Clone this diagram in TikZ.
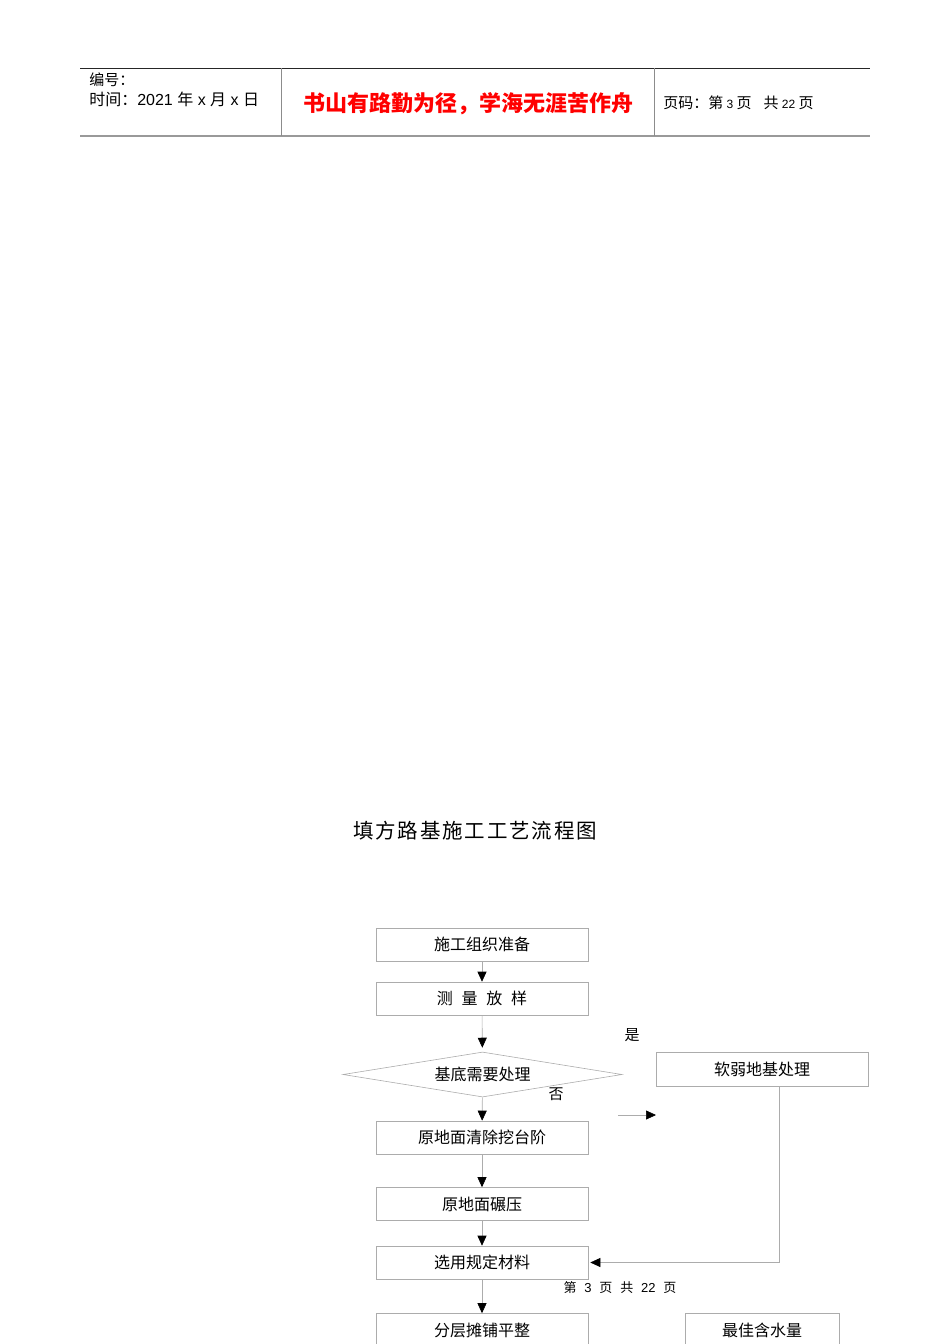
\documentclass[tikz,border=0pt]{standalone}
\usepackage{fontspec}
\usepackage{xcolor}
\usepackage{tikz}
\usetikzlibrary{arrows.meta,shapes.geometric,positioning}
\newfontfamily\cjk{Noto Sans CJK SC}
\newfontfamily\arial{Liberation Sans}

\begin{document}
\begin{tikzpicture}[x=1pt,y=-1pt,line width=0.6pt,
    box/.style={draw=gray!65,minimum width=212pt,minimum height=33pt,inner sep=0pt,font=\cjk\fontsize{16}{18}\selectfont},
    ask/.style={draw=gray!65,diamond,aspect=6.2,minimum width=279pt,minimum height=45pt,inner sep=0pt,font=\cjk\fontsize{16}{18}\selectfont},
    lbl/.style={inner sep=0pt,font=\cjk\fontsize{15}{18}\selectfont},
    flow/.style={draw=gray!65,-{Triangle[length=10pt,width=9pt,color=black]}}]
  \useasboundingbox (0,0) rectangle (950,1344);
  \clip (0,0) rectangle (950,1344);

  \draw[black!85,line width=0.8pt] (80,68) -- (870,68);
  \draw[gray!80,line width=2pt] (80,136) -- (870,136);
  \draw[gray!90,line width=0.8pt] (281,68) -- (281,136);
  \draw[gray!90,line width=0.8pt] (654,68) -- (654,136);
  \node[lbl,anchor=west]	(num)	at (89,80)	{编号：};
  \node[lbl,anchor=west,font=\cjk\fontsize{16}{18}\selectfont]	(date)	at (89,99)	{时间：{\arial 2021 }年{\arial\ x }月{\arial\ x }日};
  \node[lbl,text=red,font=\cjk\bfseries\fontsize{22}{24}\selectfont]	(motto)	at (468,104)	{书山有路勤为径，学海无涯苦作舟};
  \node[lbl,anchor=west]	(page)	at (663,103)	{页码：第{\arial\fontsize{12}{14}\selectfont\ 3\ }页\hspace{0.8em}共{\arial\fontsize{12}{14}\selectfont\ 22\ }页};

  \node[lbl,font=\cjk\fontsize{20.5}{24}\selectfont]	(title)	at (475,831)	{填\hspace{0.09em}方\hspace{0.09em}路\hspace{0.09em}基\hspace{0.09em}施\hspace{0.09em}工\hspace{0.09em}工\hspace{0.09em}艺\hspace{0.09em}流\hspace{0.09em}程\hspace{0.09em}图};

  \node[box]	(prep)		at (482,944.5)	{施工组织准备};
  \node[box]	(survey)	at (482,998.5)	{测\hspace{0.55em}量\hspace{0.55em}放\hspace{0.55em}样};
  \node[ask]	(check)		at (482.5,1074.5)	{基底需要处理};
  \node[box,minimum height=34pt]	(soft)	at (762,1069)	{软弱地基处理};
  \node[box]	(clear)		at (482,1137.5)	{原地面清除挖台阶};
  \node[box]	(roll)		at (482,1204)	{原地面碾压};
  \node[box]	(material)	at (482,1262.5)	{选用规定材料};
  \node[box]	(layer)		at (482,1330)	{分层摊铺平整};
  \node[box,minimum width=154pt]	(water)	at (762,1330)	{最佳含水量};

  \node[lbl]	(yes)	at (632,1035)	{是};
  \node[lbl]	(no)	at (556,1094)	{否};
  \node[inner sep=0pt,font=\cjk\fontsize{13}{15}\selectfont]	(foot)	at (620,1288)	{第\hspace{0.6em}{\arial 3}\hspace{0.6em}页\hspace{0.6em}共\hspace{0.6em}{\arial 22}\hspace{0.6em}页};

  \coordinate (stubA) at (618,1115);
  \coordinate (stubB) at (656,1115);

  \path	(prep) edge[flow] (survey)
	(survey) edge[flow,shorten >=4pt] (check)
	(check) edge[flow] (clear)
	(clear) edge[flow] (roll)
	(roll) edge[flow] (material)
	(material) edge[flow] (layer)
	(stubA) edge[flow] (stubB);
  \draw[flow]	([xshift=17pt]soft.south) |- ([xshift=2pt]material.east);
\end{tikzpicture}
\end{document}
